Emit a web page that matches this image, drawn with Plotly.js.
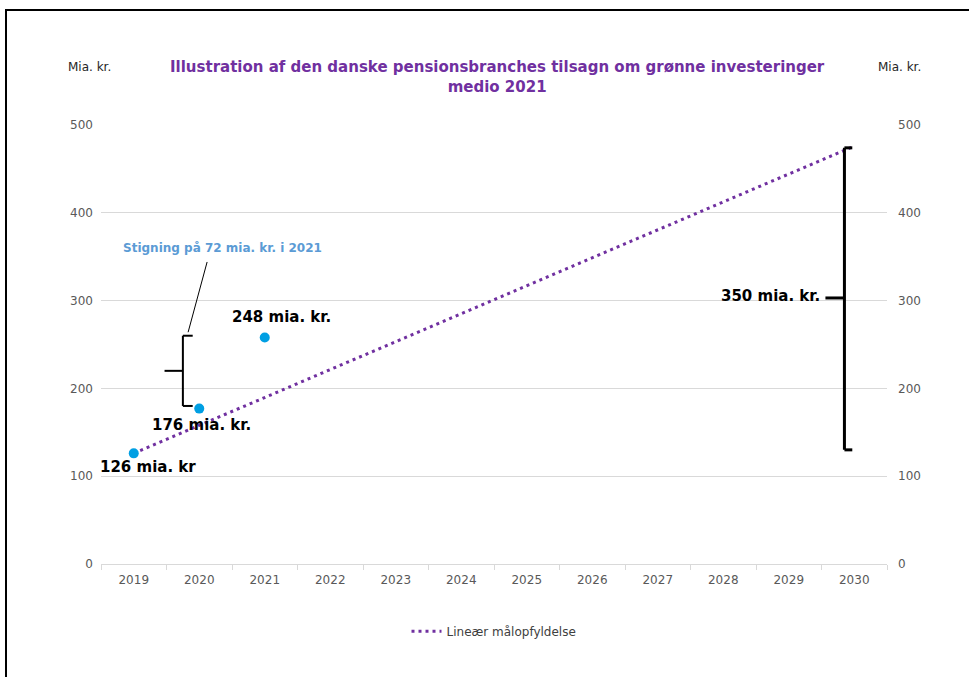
<!DOCTYPE html>
<html>
<head>
<meta charset="utf-8">
<script src="https://cdn.plot.ly/plotly-3.0.1.min.js"></script>
<style>
  html, body { margin: 0; padding: 0; background: #fff; }
  #wrap { position: relative; width: 969px; height: 677px; }
  #frame { position: absolute; left: 5px; top: 9px; right: -4px; bottom: -4px; border-left: 2px solid #000; border-top: 2px solid #000; pointer-events: none; }
  #chart { width: 969px; height: 677px; }
</style>
</head>
<body>
<div id="wrap"><div id="chart"></div><div id="frame"></div></div>
<script>
// Categories (x axis)
const years = ['2019','2020','2021','2022','2023','2024','2025','2026','2027','2028','2029','2030'];
// Actual commitments (points, as plotted in the picture)
const pointYears = ['2019','2020','2021'];
const pointValues = [126, 177, 258];
// Linear goal fulfilment line
const lineYears = ['2019','2030'];
const lineValues = [126, 476];
const lineName = 'Lineær målopfyldelse';
// Y axis ticks
const yTicks = [0, 100, 200, 300, 400, 500];
// Label texts
const pointLabels = ['126 mia. kr', '176 mia. kr.', '248 mia. kr.'];
const increaseLabel = 'Stigning på 72 mia. kr. i 2021';
const goalLabel = '350 mia. kr.';
const unitLabel = 'Mia. kr.';
const titleText = 'Illustration af den danske pensionsbranches tilsagn om grønne investeringer<br>medio 2021';

const purple = '#7030A0';
const blue = '#009FE3';
const grid = '#D9D9D9';
const FF = 'Verdana, "DejaVu Sans", sans-serif';
const tickFont = {family: FF, size: 12, color: '#595959'};
const labelFont = {family: FF, size: 15, color: '#000', weight: 'bold'};

const traces = [
  {
    x: lineYears, y: lineValues, type: 'scatter', mode: 'lines', name: lineName,
    line: {color: purple, width: 3, dash: '3px,4px'}
  },
  {
    x: pointYears, y: pointValues, type: 'scatter', mode: 'markers', showlegend: false,
    marker: {color: blue, size: 10}
  },
  {
    x: years, y: years.map(() => null), yaxis: 'y2', type: 'scatter', mode: 'lines',
    showlegend: false, hoverinfo: 'skip'
  }
];

const bl = {color: '#000', width: 2};
const br = {color: '#000', width: 3};
const shapes = [
  // left curly bracket
  {type: 'line', xref: 'x', yref: 'y', x0: 0.75, x1: 0.75, y0: 180, y1: 260, line: bl},
  {type: 'line', xref: 'x', yref: 'y', x0: 0.75, x1: 0.9, y0: 260, y1: 260, line: bl},
  {type: 'line', xref: 'x', yref: 'y', x0: 0.75, x1: 0.9, y0: 180, y1: 180, line: bl},
  {type: 'line', xref: 'x', yref: 'y', x0: 0.47, x1: 0.75, y0: 220, y1: 220, line: bl},
  // leader line
  {type: 'line', xref: 'x', yref: 'y', x0: 0.83, x1: 1.12, y0: 264, y1: 344, line: {color: '#000', width: 1}},
  // right bracket
  {type: 'line', xref: 'x', yref: 'y', x0: 10.85, x1: 10.85, y0: 130, y1: 474, line: br},
  {type: 'line', xref: 'x', yref: 'y', x0: 10.85, x1: 10.97, y0: 474, y1: 474, line: br},
  {type: 'line', xref: 'x', yref: 'y', x0: 10.85, x1: 10.97, y0: 130, y1: 130, line: br},
  {type: 'line', xref: 'x', yref: 'y', x0: 10.56, x1: 10.85, y0: 303, y1: 303, line: br}
];

const annotations = [
  {xref: 'x', yref: 'y', x: 0.21, y: 111, text: pointLabels[0], showarrow: false, xanchor: 'center', yanchor: 'middle', font: labelFont},
  {xref: 'x', yref: 'y', x: 1.03, y: 158, text: pointLabels[1], showarrow: false, xanchor: 'center', yanchor: 'middle', font: labelFont},
  {xref: 'x', yref: 'y', x: 2.26, y: 281, text: pointLabels[2], showarrow: false, xanchor: 'center', yanchor: 'middle', font: labelFont},
  {xref: 'x', yref: 'y', x: 10.5, y: 305, text: goalLabel, showarrow: false, xanchor: 'right', yanchor: 'middle', font: labelFont},
  {xref: 'x', yref: 'y', x: 1.36, y: 360, text: increaseLabel, showarrow: false, xanchor: 'center', yanchor: 'middle',
   font: {family: FF, size: 12, color: '#5B9BD5', weight: 'bold'}},
  {xref: 'paper', yref: 'paper', x: -0.014, y: 1.132, text: unitLabel, showarrow: false, xanchor: 'center', yanchor: 'middle',
   font: {family: FF, size: 12, color: '#262626'}},
  {xref: 'paper', yref: 'paper', x: 1.0165, y: 1.132, text: unitLabel, showarrow: false, xanchor: 'center', yanchor: 'middle',
   font: {family: FF, size: 12, color: '#262626'}}
];

const layout = {
  width: 969, height: 677,
  margin: {l: 101, r: 82, t: 125, b: 113},
  paper_bgcolor: '#fff', plot_bgcolor: '#fff',
  title: {
    text: titleText, xref: 'paper', x: 0.504, xanchor: 'center',
    yref: 'container', y: 0.893, yanchor: 'middle',
    font: {family: FF, size: 15, color: purple, weight: 'bold'}
  },
  xaxis: {
    type: 'category', categoryorder: 'array', categoryarray: years,
    range: [-0.5, 11.5], tickson: 'boundaries', ticks: 'outside', ticklen: 5,
    tickcolor: grid, showline: true, linecolor: grid, linewidth: 1,
    showgrid: false, zeroline: false, tickfont: tickFont, ticklabelstandoff: 5, fixedrange: true
  },
  yaxis: {
    range: [0, 500], tickvals: yTicks, showgrid: true, gridcolor: grid, gridwidth: 1,
    zeroline: false, showline: false, ticks: '', tickfont: tickFont, ticklabelstandoff: 7
  },
  yaxis2: {
    range: [0, 500], tickvals: yTicks, overlaying: 'y', side: 'right', showgrid: false,
    zeroline: false, showline: false, ticks: '', tickfont: tickFont, ticklabelstandoff: 10
  },
  legend: {
    orientation: 'h', x: 0.5, xanchor: 'center', y: -0.153, yanchor: 'middle',
    font: {family: FF, size: 12, color: '#404040'}
  },
  showlegend: true,
  shapes: shapes,
  annotations: annotations
};

Plotly.newPlot('chart', traces, layout, {displayModeBar: false, staticPlot: true});
</script>
</body>
</html>
